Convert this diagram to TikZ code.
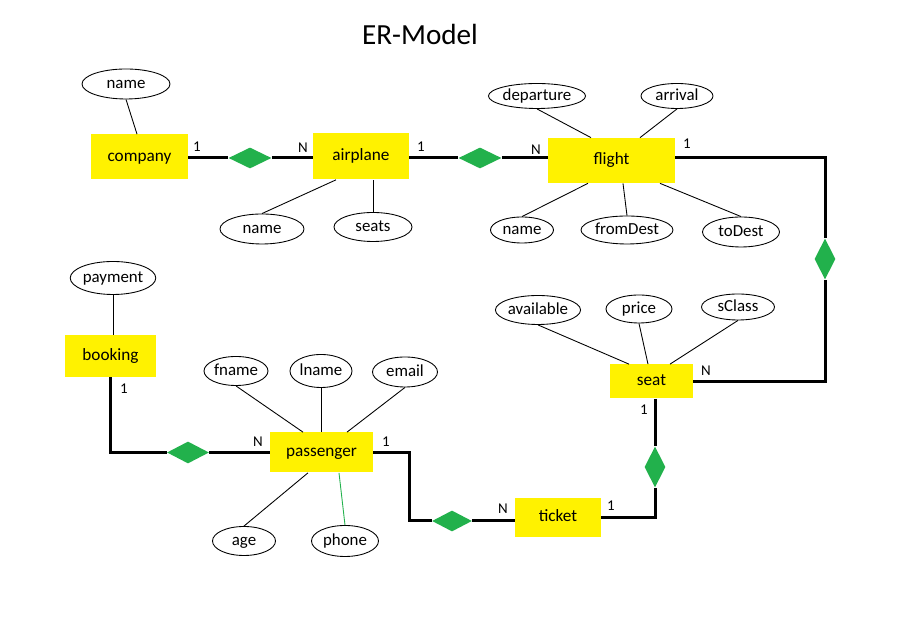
\documentclass[tikz,border=0pt]{standalone}
\usepackage{fontspec}
\setmainfont{Carlito}
\usepackage{tikz}
\usetikzlibrary{positioning,calc,shapes.geometric}
\definecolor{entyellow}{RGB}{255,242,0}
\definecolor{relgreen}{RGB}{34,177,76}

\begin{document}
\begin{tikzpicture}[
    entity/.style={rectangle, fill=entyellow, inner sep=0pt, text height=0.68em, text depth=0.2em, font=\fontsize{9.8}{11}\selectfont},
    attrib/.style={ellipse, draw, line width=0.5pt, fill=white, inner sep=0pt, text height=0.68em, text depth=0.2em, font=\fontsize{9.6}{11}\selectfont},
    rel/.style={diamond, fill=relgreen, inner sep=0pt, minimum width=0.86cm, minimum height=0.42cm},
    relv/.style={diamond, fill=relgreen, inner sep=0pt, minimum width=0.42cm, minimum height=0.82cm},
    card/.style={inner sep=0pt, font=\fontsize{8.5}{10}\selectfont},
    link/.style={line width=0.06cm},
    attr/.style={line width=0.5pt}]
  \fill[white] (0,0) rectangle (18,-12.8);
  \useasboundingbox (0,0) rectangle (18,-12.8);

  \node[font=\fontsize{16.6}{20}\selectfont] (title) at (8.4,-0.68) {ER-Model};

  % entities
  \node[entity, minimum width=1.94cm, minimum height=0.90cm] (company) at (2.79,-3.14) {company};
  \node[entity, minimum width=1.92cm, minimum height=0.92cm] (airplane) at (7.22,-3.13) {airplane};
  \node[entity, minimum width=2.54cm, minimum height=0.90cm] (flight) at (12.23,-3.21) {flight};
  \node[entity, minimum width=1.66cm, minimum height=0.68cm] (seat) at (13.03,-7.63) {seat};
  \node[entity, minimum width=1.72cm, minimum height=0.78cm] (ticket) at (11.16,-10.35) {ticket};
  \node[entity, minimum width=2.06cm, minimum height=0.80cm] (passenger) at (6.43,-9.05) {passenger};
  \node[entity, minimum width=1.82cm, minimum height=0.84cm] (booking) at (2.21,-7.12) {booking};

  % relationships
  \node[rel] (hasplane) at (5.0,-3.16) {};
  \node[rel] (flies) at (9.6,-3.16) {};
  \node[relv] (hasseat) at (16.5,-5.18) {};
  \node[relv] (forseat) at (13.1,-9.34) {};
  \node[rel, minimum width=0.80cm] (holds) at (9.04,-10.42) {};
  \node[rel, minimum width=0.84cm, minimum height=0.44cm] (makes) at (3.76,-9.05) {};

  % attributes
  \node[attrib, minimum width=1.76cm, minimum height=0.60cm] (cname) at (2.52,-1.68) {name};
  \node[attrib, minimum width=1.68cm, minimum height=0.60cm] (aname) at (5.24,-4.58) {name};
  \node[attrib, minimum width=1.56cm, minimum height=0.58cm] (seats) at (7.46,-4.54) {seats};
  \node[attrib, minimum width=1.86cm, minimum height=0.50cm] (departure) at (10.74,-1.92) {departure};
  \node[attrib, minimum width=1.44cm, minimum height=0.50cm] (arrival) at (13.54,-1.92) {arrival};
  \node[attrib, minimum width=1.26cm, minimum height=0.52cm] (fname) at (10.44,-4.60) {name};
  \node[attrib, minimum width=1.84cm, minimum height=0.56cm] (fromDest) at (12.54,-4.60) {fromDest};
  \node[attrib, minimum width=1.54cm, minimum height=0.60cm] (toDest) at (14.82,-4.64) {toDest};
  \node[attrib, minimum width=1.58cm, minimum height=0.58cm] (available) at (10.76,-6.20) {available};
  \node[attrib, minimum width=1.32cm, minimum height=0.56cm] (price) at (12.78,-6.18) {price};
  \node[attrib, minimum width=1.46cm, minimum height=0.52cm] (sClass) at (14.76,-6.14) {sClass};
  \node[attrib, minimum width=1.64cm, minimum height=0.66cm] (payment) at (2.26,-5.56) {payment};
  \node[attrib, minimum width=1.28cm, minimum height=0.58cm] (pfname) at (4.72,-7.42) {fname};
  \node[attrib, minimum width=1.24cm, minimum height=0.66cm] (plname) at (6.42,-7.42) {lname};
  \node[attrib, minimum width=1.30cm, minimum height=0.60cm] (email) at (8.10,-7.44) {email};
  \node[attrib, minimum width=1.26cm, minimum height=0.58cm] (age) at (4.88,-10.82) {age};
  \node[attrib, minimum width=1.34cm, minimum height=0.62cm] (phone) at (6.90,-10.82) {phone};

  % relationship lines
  \draw[link] (company.east |- hasplane) -- (hasplane.west);
  \draw[link] (hasplane.east) -- (hasplane -| airplane.west);
  \draw[link] (airplane.east |- flies) -- (flies.west);
  \draw[link] (flies.east) -- (flies -| flight.west);
  \draw[link] (flight.east |- flies) -| (hasseat.north);
  \draw[link, line join=miter] (hasseat.south) |- (seat.east);
  \draw[link] (forseat |- seat.south) -- (forseat.north);
  \draw[link] (forseat.south) |- (ticket.east);
  \draw[link] (passenger.east) -- ++(0.72,0) |- (holds.west);
  \draw[link] (holds.east) -- (holds -| ticket.west);
  \draw[link] (booking.south) |- (makes.west);
  \draw[link] (makes.east) -- (passenger.west);

  % attribute lines
  \draw[attr] (cname.south) -- ($(company.north)+(-0.05,0)$);
  \draw[attr] (aname.north) -- ($(airplane.south)+(-0.5,0)$);
  \draw[attr] (seats.north) -- (seats.north |- airplane.south);
  \draw[attr] (departure.south) -- ($(flight.north)+(-0.41,0)$);
  \draw[attr] (arrival.south) -- ($(flight.north)+(0.57,0)$);
  \draw[attr] (fname.north) -- ($(flight.south)+(-0.47,0)$);
  \draw[attr] (fromDest.north) -- ($(flight.south)+(0.23,0)$);
  \draw[attr] (toDest.north) -- ($(flight.south)+(0.97,0)$);
  \draw[attr] (available.south) -- ($(seat.north)+(-0.45,0)$);
  \draw[attr] (price.south) -- ($(seat.north)+(-0.07,0)$);
  \draw[attr] (sClass.south) -- ($(seat.north)+(0.37,0)$);
  \draw[attr] (payment.south) -- (payment.south |- booking.north);
  \draw[attr] (pfname.south) -- ($(passenger.north)+(-0.37,0)$);
  \draw[attr] (plname.south) -- (plname.south |- passenger.north);
  \draw[attr] (email.south) -- ($(passenger.north)+(0.51,0)$);
  \draw[attr] (age.north) -- ($(passenger.south)+(-0.27,0)$);
  \draw[attr, draw=relgreen] (phone.north) -- ($(passenger.south)+(0.35,0)$);

  % cardinalities
  \node[card] (c1) at (3.94,-2.94) {1};
  \node[card] (c2) at (6.06,-2.96) {N};
  \node[card] (c3) at (8.42,-2.94) {1};
  \node[card] (c4) at (10.72,-3.00) {N};
  \node[card] (c5) at (13.74,-2.88) {1};
  \node[card] (c6) at (14.12,-7.42) {N};
  \node[card] (c7) at (12.88,-8.20) {1};
  \node[card] (c8) at (12.22,-10.12) {1};
  \node[card] (c9) at (10.06,-10.18) {N};
  \node[card] (c10) at (7.72,-8.84) {1};
  \node[card] (c11) at (5.16,-8.84) {N};
  \node[card] (c12) at (2.48,-7.78) {1};
\end{tikzpicture}
\end{document}
